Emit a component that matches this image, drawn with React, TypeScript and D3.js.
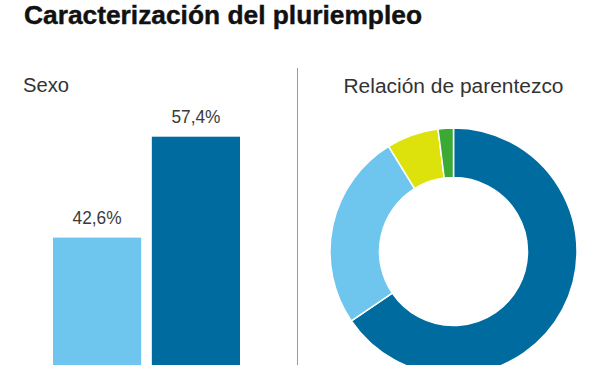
import React from 'react';
import * as d3 from 'd3';

// Sexo
const sexCategories = ['Mujeres', 'Hombres'];
const sexValues = [42.6, 57.4];
const sexLabels = ['42,6%', '57,4%'];

// Relación de parentezco
const kinCategories = ['Persona de referencia', 'Cónyuge', 'Hijo/a', 'Otros'];
const kinValues = [65.5, 25.7, 6.8, 2.0];

const width = 600;
const height = 365;

const sexColors = ['#6ec6ee', '#006b9e'];
const kinColors = ['#006b9e', '#6ec6ee', '#dde20c', '#3aaa35'];

const font = '"Liberation Sans", Arial, sans-serif';

const App = () => {
    const x = d3
        .scaleBand()
        .domain(sexCategories)
        .range([53, 240])
        .paddingInner(0.108)
        .paddingOuter(0);

    // baseline sits below the visible area (chart is cropped)
    const y = d3.scaleLinear().domain([0, 57.4]).range([528, 136.7]);

    const pieGenerator = d3
        .pie<number>()
        .sort(null)
        .startAngle(0)
        .endAngle(2 * Math.PI)
        .value((d) => d);

    const arcGenerator = d3
        .arc<d3.PieArcDatum<number>>()
        .innerRadius(74)
        .outerRadius(123.5);

    const arcs = pieGenerator(kinValues);

    return (
        <svg
            width={width}
            height={height}
            style={{ position: 'absolute', left: 0, top: 0, background: '#fff' }}
        >
            <text
                x={24}
                y={23.5}
                fontFamily={font}
                fontWeight="bold"
                fontSize={25}
                fill="#111"
                stroke="#111"
                strokeWidth={0.4}
                textLength={398}
                lengthAdjust="spacingAndGlyphs"
            >
                Caracterización del pluriempleo
            </text>

            <text
                x={23}
                y={92}
                fontFamily={font}
                fontSize={20}
                fill="#333"
                textLength={46}
                lengthAdjust="spacingAndGlyphs"
            >
                Sexo
            </text>
            <text
                x={453.5}
                y={93}
                fontFamily={font}
                fontSize={20}
                fill="#333"
                textAnchor="middle"
                textLength={220}
                lengthAdjust="spacingAndGlyphs"
            >
                Relación de parentezco
            </text>

            <line x1={297.5} x2={297.5} y1={68} y2={height} stroke="#9a9a9a" strokeWidth={1} />

            {sexCategories.map((c, i) => (
                <g key={c}>
                    <rect
                        x={x(c)}
                        y={y(sexValues[i])}
                        width={x.bandwidth()}
                        height={y(0) - y(sexValues[i])}
                        fill={sexColors[i]}
                    />
                    <text
                        x={(x(c) as number) + x.bandwidth() / 2}
                        y={y(sexValues[i]) - 14}
                        fontFamily={font}
                        fontSize={18}
                        fill="#3a3a3a"
                        textAnchor="middle"
                        textLength={49}
                        lengthAdjust="spacingAndGlyphs"
                    >
                        {sexLabels[i]}
                    </text>
                </g>
            ))}

            <g transform="translate(453.5, 251.5)">
                {arcs.map((d, i) => (
                    <path
                        key={kinCategories[i]}
                        d={arcGenerator(d) as string}
                        fill={kinColors[i]}
                        stroke="#ffffff"
                        strokeWidth={1.5}
                    />
                ))}
            </g>
        </svg>
    );
};

export default App;
